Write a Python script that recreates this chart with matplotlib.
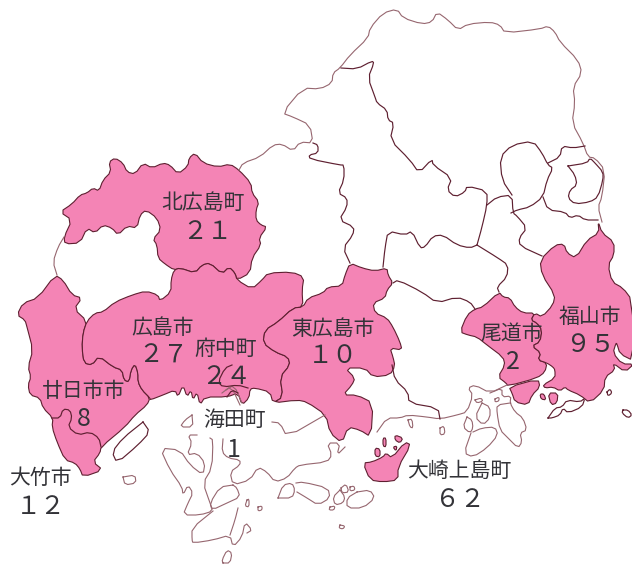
#!/usr/bin/env python3
# Hiroshima prefecture map with counts per municipality.
# Outlines are traced in image coordinates (x right, y down).
import matplotlib
matplotlib.use('Agg')
import matplotlib.pyplot as plt
from matplotlib.patches import Polygon

# ---------------------------------------------------------------------------
# Labels and values
# ---------------------------------------------------------------------------
names  = ['北広島町', '広島市', '府中町', '東広島市', '海田町', '廿日市市',
          '大竹市', '尾道市', '福山市', '大崎上島町']
values = ['２１', '２７', '２４', '１０', '1', '8', '１２', '2', '９５', '６２']
name_x = [203, 163, 226, 333, 235, 84, 40, 512, 590, 459]
name_y = [203, 328, 349, 329, 420, 391, 478, 334, 317, 471]
val_x  = [207, 163, 226, 333, 234, 84, 41, 513, 590, 460]
val_y  = [232, 356, 377, 356, 450, 419, 507, 362, 345, 500]

# ---------------------------------------------------------------------------
# Shaded municipalities
# ---------------------------------------------------------------------------
kitahiroshima = [(60,212),(72,204),(80,195),(87,193),(93,188),(99,191),(103,180),(111,172),(109,162),
    (115,158),(123,163),(127,172),(135,174),(143,163),(152,168),(163,163),(170,165),(178,174),(188,166),
    (189,158),(195,153),(203,163),(218,167),(230,164),(239,170),(251,183),(252,193),(259,202),(256,210),
    (256,220),(261,225),(267,227),(259,238),(261,245),(252,258),(250,273),(237,280),(235,273),(229,267),
    (222,274),(210,263),(202,265),(195,273),(180,268),(174,270),(165,264),(158,258),(157,245),(153,239),
    (161,230),(157,218),(146,210),(140,215),(137,228),(127,226),(118,235),(112,228),(103,225),(95,233),
    (87,228),(80,243),(65,244),(64,237),(72,220)]
west = [(55,275),(63,280),(72,295),(82,298),(74,309),(87,321),(83,333),(82,348),(84,363),(92,365),(99,356),
    (113,367),(122,370),(124,380),(129,382),(131,370),(135,364),(138,373),(138,382),(142,390),(150,398),
    (147,405),(135,415),(125,427),(101,447),(100,453),(93,462),(103,470),(83,477),(80,469),(75,463),
    (65,460),(57,442),(52,427),(53,418),(43,408),(40,398),(30,395),(28,385),(31,377),(28,367),(33,350),
    (27,327),(25,320),(17,315),(23,303),(38,298)]
central = [(87,321),(95,313),(103,312),(115,302),(132,295),(146,291),(158,295),(160,301),(171,292),(171,280),
    (174,270),(180,268),(195,273),(202,265),(210,263),(222,274),(229,267),(235,273),(237,280),(252,289),
    (262,280),(268,273),(292,272),(304,277),(302,290),(303,307),(293,308),(278,322),(265,330),(263,343),
    (275,352),(288,357),(290,365),(280,377),(283,397),(273,403),(270,392),(255,388),(250,389),(249,398),
    (242,405),(238,393),(227,397),(205,397),(200,405),(197,392),(193,400),(191,390),(187,397),(183,385),
    (178,397),(175,390),(163,395),(150,400),(150,398),(142,390),(138,382),(138,373),(135,364),(131,370),
    (129,382),(124,380),(122,370),(113,367),(99,356),(92,365),(84,363),(82,348),(83,333)]
higashihiroshima = [(350,263),(362,268),(375,271),(387,268),(388,275),(393,283),(387,290),(385,298),(373,303),
    (375,313),(387,318),(393,327),(400,342),(402,350),(390,348),(393,357),(395,366),(390,375),(373,377),
    (365,368),(345,368),(355,378),(352,385),(343,395),(357,395),(373,403),(371,437),(360,430),(348,427),
    (342,443),(330,433),(326,415),(307,402),(297,400),(273,403),(283,397),(280,377),(290,365),(288,357),
    (275,352),(263,343),(265,330),(278,322),(293,308),(303,307),(308,298),(323,293),(328,287),(342,286),
    (345,275)]
onomichi = [(499,292),(503,297),(510,298),(515,307),(523,313),(535,313),(531,320),(537,323),(542,330),(540,342),
    (532,346),(541,353),(538,360),(547,363),(545,372),(537,378),(508,386),(506,383),(498,377),(505,365),
    (503,357),(487,345),(477,337),(468,335),(460,332),(467,315),(475,309),(483,307)]
mukaishima = [(509,387),(538,379),(540,387),(532,395),(528,405),(515,402),(512,393)]
fukuyama = [(598,221),(602,233),(614,242),(614,255),(608,265),(612,282),(623,288),(632,300),(634,361),(620,354),
    (617,344),(616,343),(613,353),(622,364),(634,364),(625,372),(613,363),(615,370),(605,377),(604,390),
    (590,403),(580,395),(568,390),(565,387),(560,391),(553,387),(545,388),(543,385),(555,378),(555,370),
    (553,367),(547,363),(538,360),(541,353),(532,346),(540,342),(542,330),(537,323),(531,320),(535,313),
    (542,317),(553,305),(555,295),(542,275),(540,260),(555,245),(564,244),(567,253),(576,258),(587,240),(599,233)]
osakikamijima = [(363,463),(372,462),(383,457),(386,453),(392,458),(405,442),(411,445),(398,467),(398,480),
    (383,482),(370,480)]
islet_a = [(383,438),(386,438),(386,447),(383,446)]
islet_b = [(395,435),(403,438),(400,443),(395,440)]
islet_c = [(375,448),(380,449),(380,457),(375,456)]
islet_d = [(393,447),(397,446),(396,451)]
islet_e = [(540,394),(544,394),(546,400),(541,399)]
islet_f = [(548,393),(558,393),(557,403),(551,405)]
shaded = [kitahiroshima, west, central, higashihiroshima, onomichi, mukaishima, fukuyama, osakikamijima,
          islet_a, islet_b, islet_c, islet_d, islet_e, islet_f]

# ---------------------------------------------------------------------------
# Inner boundaries (dark)
# ---------------------------------------------------------------------------
otake_line = [(52,418),(60,418),(63,409),(70,410),(72,418),(68,427),(78,435),(90,432),(99,438),(101,447)]
fuchu_line = [(232,365),(225,368),(218,382),(223,387),(238,385),(248,388)]
kaita_line = [(227,397),(232,390),(238,393)]
miyoshi_w = [(341,68),(357,69),(372,61),(374,63),(368,78),(375,97),(377,103),(387,110),(388,120),(394,123),
    (390,140),(410,160),(419,173),(432,159),(433,165),(452,178),(447,190),(455,197),(465,192),(467,186),
    (487,191),(487,205),(482,227),(477,245)]
sera_top = [(477,245),(470,248),(457,245),(443,235),(433,236),(425,247),(420,248),(412,231),(405,235),(388,231),
    (385,248),(383,267)]
akitakata_e = [(313,143),(318,145),(318,153),(309,155),(310,159),(340,165),(344,165),(344,180),(338,193),(347,198),
    (347,207),(339,220),(354,227),(353,235),(343,248),(350,263)]
mihara_e = [(477,245),(498,258),(508,265),(507,277),(497,287),(499,292)]
sera_s = [(393,283),(398,280),(422,292),(437,303),(457,297),(470,302),(475,309)]
fu_a = [(487,205),(497,197),(512,195),(513,213),(517,216),(527,228),(519,238),(520,246),(542,256)]
fu_b = [(512,195),(502,180),(500,157),(512,145),(533,141),(542,153),(548,165),(553,168),(547,180),(543,197),
    (530,207),(517,210),(511,213)]
fu_c = [(548,163),(560,157),(562,146),(573,148),(585,146)]
fu_d = [(568,166),(587,163),(590,158),(595,163),(603,172),(603,180),(598,197),(590,202),(575,204),(568,198),
    (570,190),(577,185),(575,175),(568,166)]
fu_e = [(543,197),(548,210),(565,212),(570,218),(578,215),(585,220),(598,220)]
bay_coast = [(392,365),(395,380),(408,392),(409,403),(438,408),(440,419)]
miyajima = [(143,422),(150,432),(138,445),(117,463),(112,452),(123,438),(143,422)]
tomo = [(548,418),(555,408),(562,407),(567,400),(580,402),(585,398),(582,407),(568,413),(563,408),(560,415),(552,418),(548,418)]
dot_a = [(607,392),(610,389),(612,393),(608,396),(607,392)]
dot_b = [(623,410),(628,410),(632,415),(628,418),(622,413),(623,410)]
dark_lines = [otake_line, fuchu_line, kaita_line, miyoshi_w, sera_top, akitakata_e, mihara_e, sera_s, fu_a, fu_b,
              fu_c, fu_d, fu_e, bay_coast, miyajima, tomo, dot_a, dot_b]

# ---------------------------------------------------------------------------
# Prefecture edge and islands (lighter)
# ---------------------------------------------------------------------------
north_edge = [(239,170),(243,163),(260,157),(273,145),(282,144),(293,151),(300,142),(313,143),(310,125),(293,117),
    (282,113),(303,88),(320,89),(332,83),(333,73),(340,68),(350,55),(368,38),(370,28),(383,13),(397,9),
    (403,18),(422,24),(432,22),(437,12),(448,20),(458,30),(468,24),(490,22),(500,25),(505,33),(540,29),
    (548,26),(555,32),(560,42),(578,60),(582,73),(573,87),(575,103),(572,123),(583,143),(588,157),(595,158),
    (605,170),(602,197),(598,207),(602,222)]
akiota_w = [(64,237),(58,247),(53,262),(57,275)]
harbor_a = [(222,393),(231,386),(240,405)]
harbor_b = [(226,390),(234,385),(242,403)]
nino = [(192,415),(193,427),(180,427),(185,420),(192,415)]
etajima = [(197,435),(188,435),(192,443),(187,455),(197,453),(205,463),(203,475),(190,465),(180,450),(160,448),
    (170,470),(182,487),(183,495),(188,485),(193,493),(188,503),(183,515),(200,515),(213,511),(210,503),
    (203,483),(212,468),(213,440),(210,438)]
kure_coast = [(223,439),(222,452),(228,458),(240,460),(240,465),(230,472),(233,485),(250,480),(258,467),(267,472),
    (275,482),(287,478),(295,468),(300,465),(327,462),(332,455),(327,443),(340,443),(337,455),(345,447)]
kurahashi = [(233,485),(220,487),(210,503),(212,510),(227,503),(240,497),(237,488),(233,485)]
shimo = [(213,511),(192,528),(192,540),(193,543),(213,540),(230,535),(233,547),(242,537),(245,522),(252,530),(247,533)]
shimo_n = [(238,508),(235,520),(230,535)]
small_k = [(223,563),(222,560),(227,550),(232,553),(230,563),(223,563)]
coast_strip = [(272,422),(280,423),(287,437),(325,415)]
isl_a = [(278,498),(283,485),(292,483),(295,490),(292,498),(278,498)]
isl_b = [(296,483),(303,482),(328,488),(330,498),(318,505),(307,498),(297,492)]
isl_c = [(340,490),(345,497),(343,503),(335,505),(333,497),(340,490)]
isl_d = [(357,492),(370,490),(375,498),(363,508),(347,508),(347,498),(357,492)]
isl_e = [(330,507),(335,506),(334,510),(329,510),(330,507)]
isl_f = [(340,525),(345,526),(343,529),(339,528),(340,525)]
isl_g = [(350,487),(354,486),(355,490),(350,491),(350,487)]
isl_h = [(247,500),(249,499),(249,507),(245,506),(247,500)]
isl_i = [(123,477),(135,475),(136,483),(125,485),(123,477)]
isl_j = [(258,507),(262,506),(262,510),(258,511),(258,507)]
kami_coast = [(377,432),(387,418),(400,418),(408,415),(427,417),(440,419),(457,415),(467,412),(473,395),(468,388),
    (475,385),(490,393),(507,385)]
inno_top = [(490,393),(502,388),(502,397),(511,396),(510,403),(515,412),(523,418),(527,430),(520,433),(522,442),
    (518,448),(508,438),(500,430),(497,413),(497,405),(510,403)]
ikuchi = [(471,433),(464,453),(473,457),(487,448),(498,435),(495,427),(482,428),(473,432)]
ikuchi_w = [(467,417),(472,420),(473,428),(470,433),(463,427),(467,417)]
ikuchi_n = [(482,403),(490,407),(490,418),(483,425),(475,417),(482,403)]
isl_k = [(475,400),(481,398),(483,401),(477,403),(475,400)]
isl_l = [(495,399),(499,397),(499,401),(495,402),(495,399)]
isl_m = [(341,488),(346,484),(349,492),(342,493),(341,488)]
isl_n = [(408,420),(412,419),(413,428),(410,427),(408,420)]
isl_o = [(440,428),(444,426),(445,434),(440,435),(440,428)]
light_lines = [north_edge, akiota_w, harbor_a, harbor_b, nino, etajima, kure_coast, kurahashi, shimo, shimo_n, small_k,
               coast_strip, isl_a, isl_b, isl_c, isl_d, isl_e, isl_f, isl_g, isl_h, isl_i, isl_j, kami_coast, inno_top,
               ikuchi, ikuchi_w, ikuchi_n, isl_k, isl_l, isl_m, isl_n, isl_o]


def round_corners(points, closed=False):
    '''One pass of corner cutting so traced outlines do not look angular.'''
    pts = list(points)
    pairs = list(zip(pts, pts[1:] + pts[:1])) if closed else list(zip(pts, pts[1:]))
    out = [] if closed else [pts[0]]
    for (x0, y0), (x1, y1) in pairs:
        out.append((0.75 * x0 + 0.25 * x1, 0.75 * y0 + 0.25 * y1))
        out.append((0.25 * x0 + 0.75 * x1, 0.25 * y0 + 0.75 * y1))
    if not closed:
        out.append(pts[-1])
    return out


# ---------------------------------------------------------------------------
# Plot
# ---------------------------------------------------------------------------
PINK = '#F484B5'
DARK = '#5E1F30'
LIGHT = '#96666F'
TEXT = '#333338'

plt.rcParams['font.family'] = ['Noto Sans CJK JP', 'DejaVu Sans']

fig = plt.figure(figsize=(6.32, 5.68), dpi=100)
ax = fig.add_axes([0, 0, 1, 1])

for outline in shaded:
    ax.add_patch(Polygon(round_corners(outline, closed=True), closed=True, facecolor=PINK,
                         edgecolor=DARK, linewidth=0.8, zorder=1))
for line in light_lines:
    xs, ys = zip(*round_corners(line))
    ax.plot(xs, ys, color=LIGHT, linewidth=0.8, zorder=2)
for line in dark_lines:
    xs, ys = zip(*round_corners(line))
    ax.plot(xs, ys, color=DARK, linewidth=0.85, zorder=2)

for i in range(len(names)):
    ax.text(name_x[i], name_y[i], names[i], fontsize=15, color=TEXT, ha='center', va='center', zorder=3)
    ax.text(val_x[i], val_y[i], values[i], fontsize=18, color=TEXT, ha='center', va='center', zorder=3)

ax.set_xlim(0, 632)
ax.set_ylim(568, 0)
ax.axis('off')

fig.savefig('out.png', dpi=100)
